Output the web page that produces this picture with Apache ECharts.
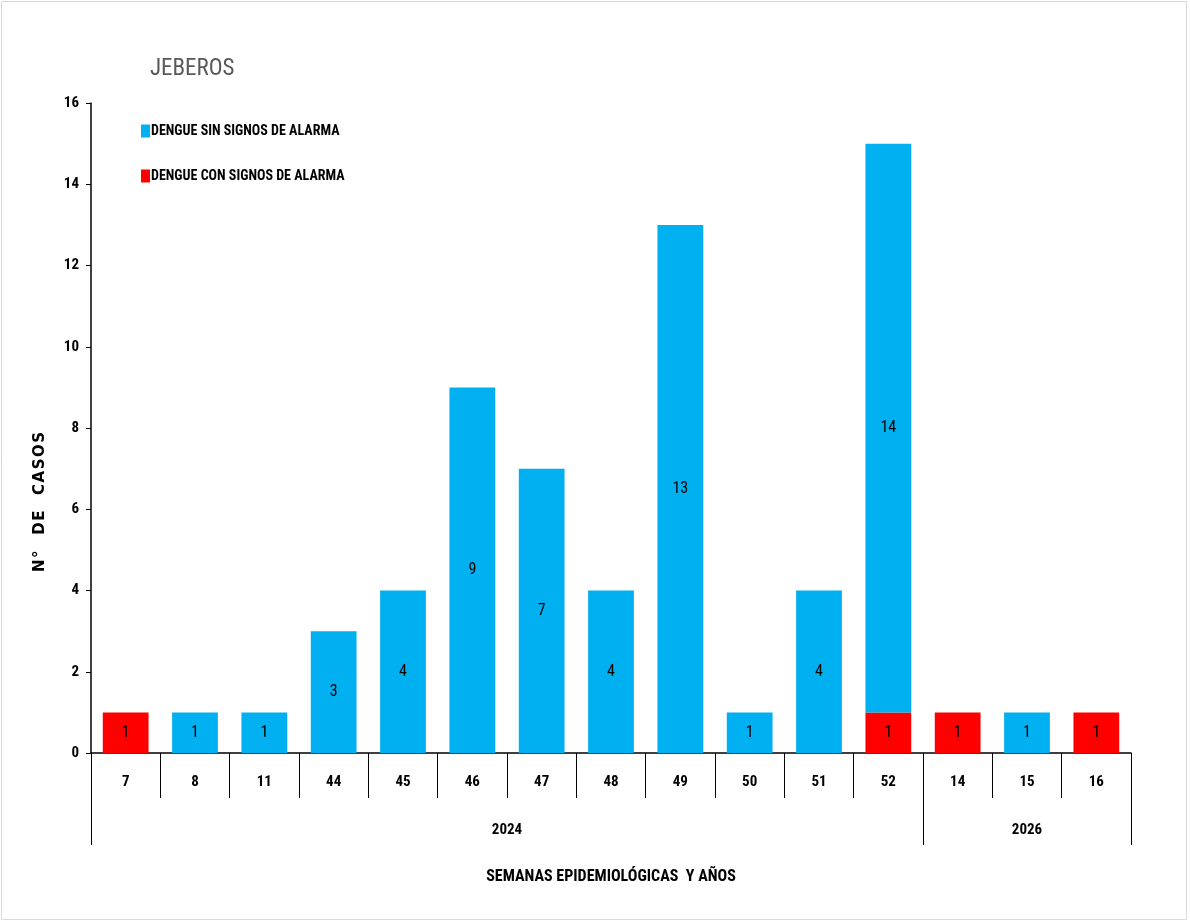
<!DOCTYPE html>
<html><head><meta charset="utf-8">
<script src="https://cdn.jsdelivr.net/npm/echarts@6/dist/echarts.min.js"></script>
<style>html,body{margin:0;padding:0;background:#fff}#c{width:1190px;height:922px}</style>
</head><body><div id="c"></div>
<script>
const weeks = ['7','8','11','44','45','46','47','48','49','50','51','52','14','15','16'];
const yearLabels = ['2024','2026'];
const yearBounds = [0, 12, 15];
const sinSignos = [null,1,1,3,4,9,7,4,13,1,4,14,null,1,null];
const conSignos = [1,null,null,null,null,null,null,null,null,null,null,1,1,null,1];
const yTicks = [0,2,4,6,8,10,12,14,16];

const FONT = "'Liberation Sans Narrow', 'Roboto Condensed', 'Liberation Sans', sans-serif";
const yearCenters = yearLabels.map((y,i)=> (yearBounds[i]+yearBounds[i+1])/2);
const T = '\u200A';
const yName = ['N','°'].join(T) + '   ' + ['D','E'].join(T) + '   ' + ['C','A','S','O','S'].join(T);

const chart = echarts.init(document.getElementById('c'));
chart.setOption({
  animation:false,
  backgroundColor:'#fff',
  title:{text:'JEBEROS', left:145, top:53, textStyle:{fontFamily:FONT, fontSize:23, fontWeight:'normal', color:'#595959'}},
  legend:{
    orient:'vertical', left:136, top:119, itemGap:31, itemWidth:9, itemHeight:13,
    icon:'rect', textStyle:{fontFamily:FONT, fontSize:14, fontWeight:'bold', color:'#000', padding:[0,0,0,-4]},
    data:['DENGUE SIN SIGNOS DE ALARMA','DENGUE CON SIGNOS DE ALARMA']
  },
  grid:{left:91, right:59, top:103, bottom:169, containLabel:false},
  xAxis:[{
    type:'category', data:weeks, boundaryGap:true,
    axisLine:{show:true, lineStyle:{color:'#000', width:1.5}},
    axisTick:{show:true, length:45, interval:0, lineStyle:{color:'#000'}},
    axisLabel:{interval:0, margin:22, fontFamily:FONT, fontSize:15, fontWeight:'bold', color:'#000'}
  },{
    type:'value', min:0, max:15, position:'bottom',
    axisLine:{show:false},
    splitLine:{show:false},
    axisTick:{show:true, customValues:yearBounds, length:92, lineStyle:{color:'#000'}},
    axisLabel:{customValues:yearCenters, margin:70, fontFamily:FONT, fontSize:15, fontWeight:'bold', color:'#000',
      formatter:(v)=>{const i=yearCenters.indexOf(v); return i>=0?yearLabels[i]:'';}},
    name:'SEMANAS EPIDEMIOLÓGICAS  Y AÑOS', nameLocation:'middle', nameGap:116,
    nameTextStyle:{fontFamily:FONT, fontSize:16, fontWeight:'bold', color:'#000'}
  }],
  yAxis:{
    type:'value', min:0, max:16, interval:2,
    axisLine:{show:true, lineStyle:{color:'#000', width:1.5}},
    axisTick:{show:true, length:5, lineStyle:{color:'#000'}},
    splitLine:{show:false},
    axisLabel:{margin:12, fontFamily:FONT, fontSize:15, fontWeight:'bold', color:'#000',
      customValues:yTicks}
  },
  series:[{
    name:'DENGUE CON SIGNOS DE ALARMA', type:'bar', stack:'t', data:conSignos, barWidth:'66%',
    itemStyle:{color:'#FF0000'},
    label:{show:true, position:'inside', fontFamily:FONT, fontSize:16, color:'#000'}
  },{
    name:'DENGUE SIN SIGNOS DE ALARMA', type:'bar', stack:'t', data:sinSignos, barWidth:'66%',
    itemStyle:{color:'#00B0F0'},
    label:{show:true, position:'inside', fontFamily:FONT, fontSize:16, color:'#000'}
  }],
  graphic:[
    {type:'rect', shape:{x:1.5,y:1.5,width:1185,height:918}, style:{fill:null, stroke:'#d9d9d9', lineWidth:1}, silent:true, z:-1},
    {type:'text', x:40, y:502, rotation:Math.PI/2, silent:true,
      style:{text:yName, fontFamily:"'DejaVu Sans', sans-serif", fontSize:15, fontWeight:'bold', fill:'#000', align:'center', verticalAlign:'middle'}}
  ]
});
</script></body></html>
